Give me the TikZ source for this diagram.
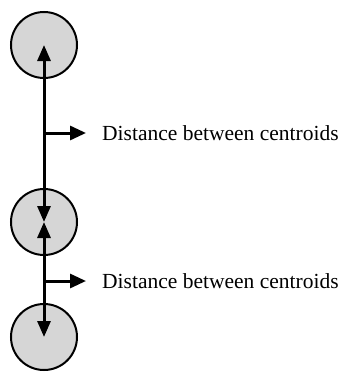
\documentclass[tikz,border=0pt]{standalone}
\usepackage{fontspec}
\setmainfont{Liberation Serif}
\usetikzlibrary{arrows.meta}
\begin{document}
\begin{tikzpicture}[x=1pt,y=-1pt,
  ball/.style={circle,draw=black,line width=2pt,fill=black!16,minimum size=66pt,inner sep=0pt},
  link/.style={line width=3pt,{Triangle[length=16pt,width=13pt]}-{Triangle[length=16pt,width=13pt]}},
  pointer/.style={line width=3pt,-{Triangle[length=16pt,width=14pt]}},
  lbl/.style={anchor=west,inner sep=0pt,font=\fontsize{21.5}{24}\selectfont}]
\useasboundingbox (0,0) rectangle (339,372);
\node[ball] (c1) at (44,45) {};
\node[ball] (c2) at (44,222) {};
\node[ball] (c3) at (44,337) {};
\draw[link] (c1.center) -- (c2.center);
\draw[link] (c2.center) -- (c3.center);
\coordinate (p1) at (44,133);
\coordinate (q1) at (86,133);
\coordinate (p2) at (44,281);
\coordinate (q2) at (86,281);
\draw[pointer] (p1) -- (q1);
\draw[pointer] (p2) -- (q2);
\node[lbl] (t1) at (102,133) {Distance between centroids};
\node[lbl] (t2) at (102,281) {Distance between centroids};
\end{tikzpicture}
\end{document}
